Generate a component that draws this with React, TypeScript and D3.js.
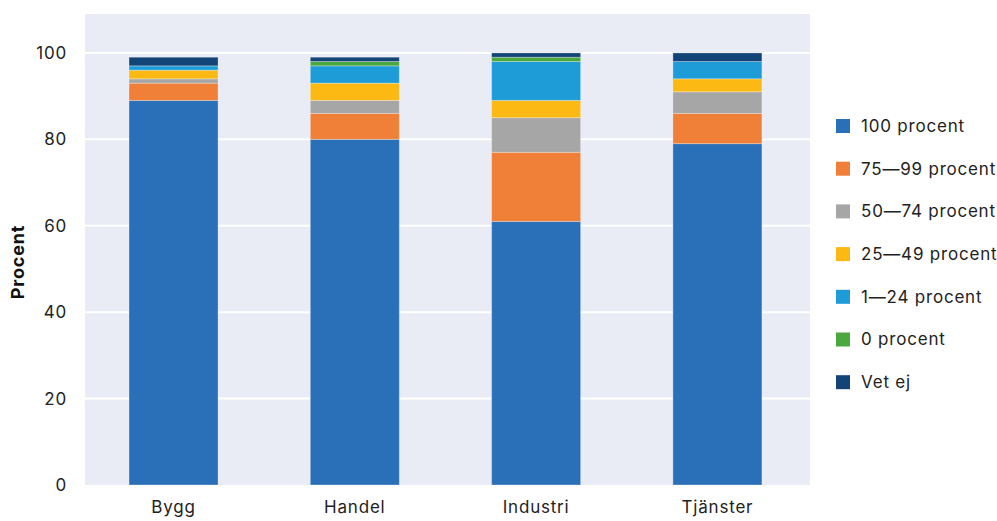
import React from "react";
import * as d3 from "d3";

const categories = ["Bygg", "Handel", "Industri", "Tjänster"];
const seriesNames = ["100 procent", "75—99 procent", "50—74 procent", "25—49 procent", "1—24 procent", "0 procent", "Vet ej"];
const s100 = [89, 80, 61, 79];
const s75 = [4, 6, 16, 7];
const s50 = [1, 3, 8, 5];
const s25 = [2, 4, 4, 3];
const s1 = [1, 4, 9, 4];
const s0 = [0, 1, 1, 0];
const sVet = [2, 1, 1, 2];
const colors = ["#2a70b8", "#f07f37", "#a6a6a6", "#fdb913", "#1e9cd8", "#4aa83e", "#134478"];
const yTicks = [0, 20, 40, 60, 80, 100];

const W = 997, H = 521;
const m = { left: 85, right: 810, top: 14, bottom: 485 };
const FONT = "Inter, 'Open Sans', sans-serif";
const LS = 0.8;

export default function App() {
  const series = [s100, s75, s50, s25, s1, s0, sVet];
  const x = d3.scaleBand().domain(categories).range([m.left, m.right]).paddingInner(0.509).paddingOuter(0.254).align(0.478);
  const y = d3.scaleLinear().domain([0, 109]).range([m.bottom, m.top]);
  const rows = categories.map((c, i) => {
    const o: any = { cat: c };
    seriesNames.forEach((n, k) => (o[n] = series[k][i]));
    return o;
  });
  const stacked = d3.stack().keys(seriesNames)(rows as any);
  return (
    <svg width={W} height={H} style={{ position: "absolute", left: 0, top: 0 }} fontFamily={FONT}>
      <rect x={m.left} y={m.top} width={m.right - m.left} height={m.bottom - m.top} fill="#e9ecf5" />
      {yTicks.map((t) => (
        <g key={t}>
          {t > 0 && <line x1={m.left} x2={m.right} y1={y(t)} y2={y(t)} stroke="#fff" strokeWidth={2} />}
          <text x={67} y={y(t)} dy="0.35em" textAnchor="end" fontSize={17} letterSpacing={LS} fill="#222">{t}</text>
        </g>
      ))}
      {stacked.map((layer, k) => (
        <g key={k} fill={colors[k]}>
          {layer.map((d, i) =>
            d[1] - d[0] > 0 ? (
              <rect key={i} x={x(categories[i])} width={x.bandwidth()} y={y(d[1])} height={y(d[0]) - y(d[1])}
                stroke="#ffffff" strokeOpacity={0.3} strokeWidth={1} />
            ) : null
          )}
        </g>
      ))}
      {categories.map((c) => (
        <text key={c} x={(x(c) as number) + x.bandwidth() / 2} y={513} textAnchor="middle" fontSize={17} letterSpacing={LS} fill="#222">{c}</text>
      ))}
      <text transform={`translate(24,${262}) rotate(-90)`} textAnchor="middle" fontSize={18} letterSpacing={LS} fontWeight="bold" fill="#111">Procent</text>
      {seriesNames.map((n, k) => (
        <g key={n} transform={`translate(836,${126 + k * 42.7})`}>
          <rect x={0} y={-7} width={14} height={14} fill={colors[k]} />
          <text x={25} y={0} dy="0.35em" fontSize={17} letterSpacing={LS} fill="#222">{n}</text>
        </g>
      ))}
    </svg>
  );
}
